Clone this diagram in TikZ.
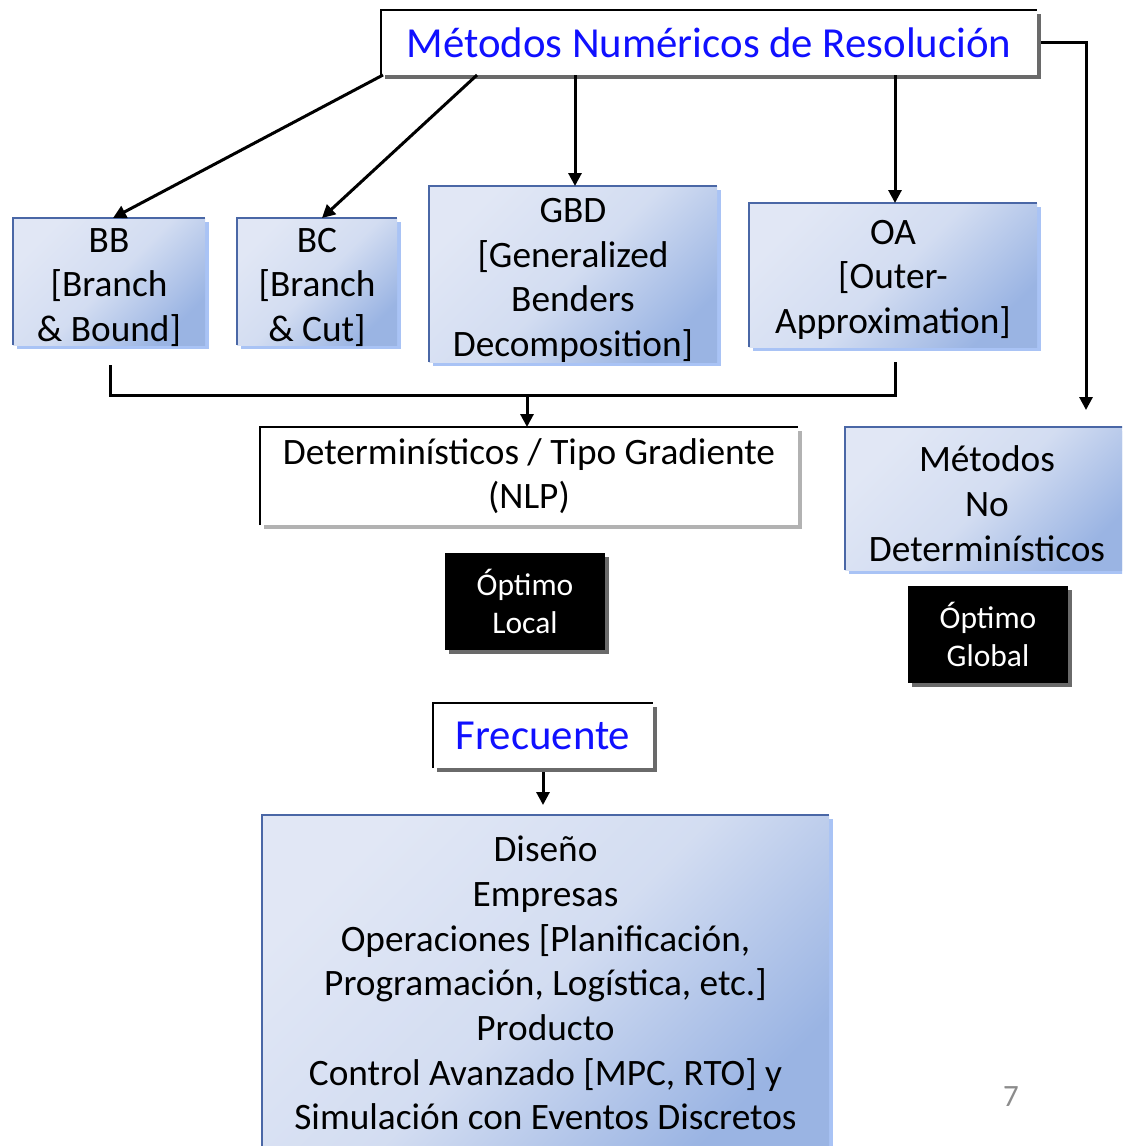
\documentclass[tikz,border=0pt]{standalone}
\usepackage{fontspec}
\setmainfont{Carlito}
\usetikzlibrary{arrows.meta,shadows,calc}
\definecolor{boxlight}{HTML}{E1E7F5}
\definecolor{boxdark}{HTML}{9AB4E3}
\definecolor{boxedge}{HTML}{4A67A6}
\definecolor{boxshadow}{HTML}{A9C3F5}
\definecolor{darkshadow}{HTML}{6A6A6A}
\definecolor{lightshadow}{HTML}{B2B2B2}
\definecolor{titleblue}{HTML}{1010FF}
% taller first line, so that the text block sits lower in its box
\newcommand{\firstline}[1]{\rule{0pt}{#1}}
\begin{document}
\begin{tikzpicture}[x=1pt,y=-1pt,
  every node/.style={inner sep=0pt,outer sep=0pt,align=center},
  bodyfont/.style={font=\fontsize{37.3}{44.7}\selectfont},
  bluebox/.style={bodyfont,inner ysep=-10pt,top color=boxlight,bottom color=boxdark,
    middle color=boxlight!80!boxdark,shading angle=45,
    drop shadow={shadow xshift=4pt,shadow yshift=-4pt,fill=boxshadow,opacity=1}},
  whitebox/.style={fill=white,
    drop shadow={shadow xshift=4pt,shadow yshift=-4pt,fill=#1,opacity=1}},
  blackbox/.style={fill=black,text=white,font=\fontsize{31.5}{38}\selectfont,
    drop shadow={shadow xshift=4pt,shadow yshift=-4pt,fill=darkshadow,opacity=1}},
  headfont/.style={font=\fontsize{42.8}{50}\selectfont,text=titleblue},
  blueedge/.style={draw=boxedge,line width=2pt},
  blackedge/.style={draw=black,line width=2.5pt},
  conn/.style={draw=black,line width=3pt},
  arr/.style={conn,-{Triangle[length=13pt,width=13pt]}}]

\useasboundingbox (0,0) rectangle (1122,1146);
\clip (0,0) rectangle (1122,1146);

% top heading
\node[whitebox=darkshadow,minimum width=656pt,minimum height=65pt,headfont] (title) at (709,42.5)
  {Métodos Numéricos de Resolución};

% method boxes
\node[bluebox,minimum width=192pt,minimum height=127pt] (BB) at (109,281.5)
  {\firstline{36pt}BB\\{[}Branch\\\& Bound]};
\node[bluebox,minimum width=160pt,minimum height=127pt] (BC) at (317,281.5)
  {\firstline{36pt}BC\\{[}Branch\\\& Cut]};
\node[bluebox,minimum width=288pt,minimum height=176pt] (GBD) at (573,274)
  {\firstline{37pt}GBD\\{[}Generalized\\Benders\\Decomposition]};
\node[bluebox,minimum width=288pt,minimum height=144pt] (OA) at (893,275)
  {\firstline{34pt}OA\\{[}Outer-\\Approximation]};

% classification
\node[whitebox=lightshadow,bodyfont,minimum width=538pt,minimum height=98pt] (det) at (529,476)
  {Determinísticos / Tipo Gradiente\\(NLP)};
\node[bluebox,minimum width=284pt,minimum height=143pt] (mnd) at (987,498.5)
  {\firstline{36pt}Métodos\\No\\Determinísticos};
\node[blackbox,minimum width=160pt,minimum height=97pt] (olocal) at (525,601.5)
  {Óptimo\\Local};
\node[blackbox,minimum width=160pt,minimum height=97pt] (oglobal) at (988,634.5)
  {Óptimo\\Global};

% applications
\node[whitebox=darkshadow,minimum width=220pt,minimum height=65pt,headfont] (frec) at (543,735.5)
  {Frecuente};
\node[bluebox,minimum width=567pt,minimum height=336pt] (apps) at (545.5,983)
  {Diseño\\Empresas\\Operaciones [Planificación,\\Programación, Logística, etc.]\\
   Producto\\Control Avanzado [MPC, RTO] y\\Simulación con Eventos Discretos};

% top/left edges of the boxes
\foreach \n in {BB,BC,GBD,OA,mnd,apps}
  \draw[blueedge] (\n.south west) -- (\n.north west) -- (\n.north east);
\foreach \n in {title,det,frec}
  \draw[blackedge] (\n.south west) -- (\n.north west) -- (\n.north east);

% connectors
\coordinate (mndin) at (1086,410);
\coordinate (appsin) at (543,805);
\coordinate (merge) at (527,395);
\draw[arr] ([xshift=2pt]title.south west) -- ([xshift=4pt]BB.north);
\draw[arr] ([xshift=96pt]title.south west) -- ([xshift=5pt]BC.north);
\draw[arr] ([xshift=2pt]GBD.north |- title.south) -- ([xshift=2pt]GBD.north);
\draw[arr] ([xshift=2pt]OA.north |- title.south) -- ([xshift=2pt]OA.north);
\draw[arr] ([xshift=4pt]title.east) -| (mndin);

\draw[conn] ([xshift=1pt,yshift=-20pt]BB.south) |- (merge)
  -| ([xshift=2pt,yshift=-15pt]OA.south);
\draw[arr] (merge) -- (merge |- det.north);
\draw[arr] ([yshift=-4pt]frec.south) -- (appsin);

% page number
\node[font=\fontsize{31}{36}\selectfont,text=black!45] (pnum) at (1011,1097) {7};
\end{tikzpicture}
\end{document}
